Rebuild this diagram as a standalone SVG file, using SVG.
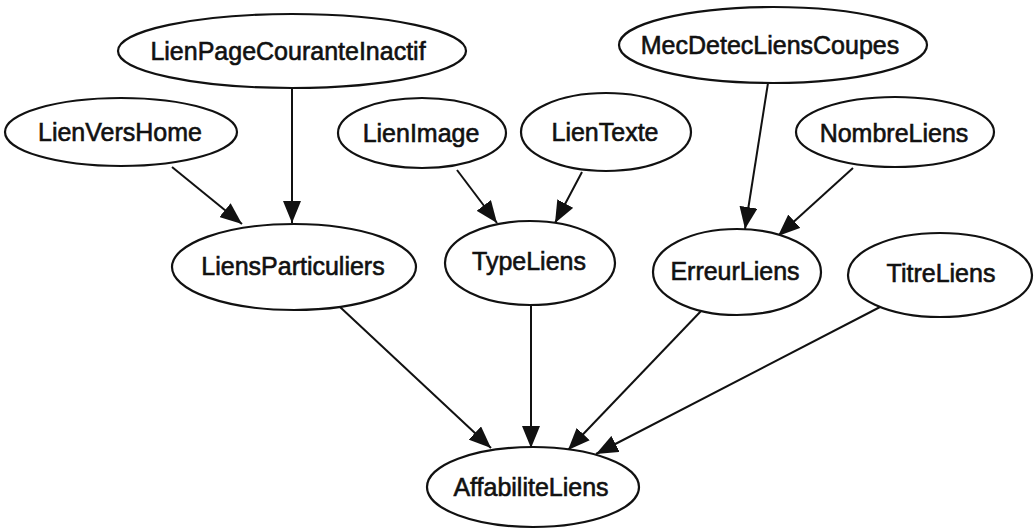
<svg xmlns="http://www.w3.org/2000/svg" width="1034" height="529" viewBox="0 0 1034 529">
  <style>
    .node ellipse { fill: #ffffff; stroke: #111111; stroke-width: 2.2; }
    .node text { font-family: "Liberation Sans", Arial, sans-serif; font-size: 25px; fill: #111111; stroke: #111111; stroke-width: 0.6; text-anchor: middle; }
    .edges path { fill: none; stroke: #111111; stroke-width: 2; marker-end: url(#arrow); }
  </style>
  <defs>
    <marker id="arrow" markerUnits="userSpaceOnUse" markerWidth="22" markerHeight="18" refX="22" refY="9" orient="auto">
      <path d="M0,0 L22,9 L0,18 Z" fill="#111111"/>
    </marker>
  </defs>
  <rect width="1034" height="529" fill="#ffffff"/>

  <g class="edges" id="edges">
    <path d="M292,88 L292,223"/>
    <path d="M172,167 L242,224"/>
    <path d="M457,170 L497,223"/>
    <path d="M582,172 L555,223"/>
    <path d="M768,83 L745,229"/>
    <path d="M853,168 L778,236"/>
    <path d="M340,307 L491,448"/>
    <path d="M531,305 L531,448"/>
    <path d="M702,310 L568,450"/>
    <path d="M882,306 L596,454"/>
  </g>

  <g class="node" id="LienPageCouranteInactif">
    <ellipse cx="292" cy="51" rx="174" ry="37"/>
    <text x="288" y="60">LienPageCouranteInactif</text>
  </g>
  <g class="node" id="LienVersHome">
    <ellipse cx="121" cy="132" rx="116" ry="34"/>
    <text x="120" y="141">LienVersHome</text>
  </g>
  <g class="node" id="LienImage">
    <ellipse cx="422" cy="133" rx="84" ry="35"/>
    <text x="421" y="142">LienImage</text>
  </g>
  <g class="node" id="LienTexte">
    <ellipse cx="606" cy="132" rx="85" ry="39"/>
    <text x="605" y="141">LienTexte</text>
  </g>
  <g class="node" id="MecDetecLiensCoupes">
    <ellipse cx="773" cy="45" rx="154" ry="38"/>
    <text x="770" y="54">MecDetecLiensCoupes</text>
  </g>
  <g class="node" id="NombreLiens">
    <ellipse cx="895" cy="132" rx="99" ry="35"/>
    <text x="894" y="142">NombreLiens</text>
  </g>
  <g class="node" id="LiensParticuliers">
    <ellipse cx="294" cy="267" rx="122" ry="43"/>
    <text x="293" y="275">LiensParticuliers</text>
  </g>
  <g class="node" id="TypeLiens">
    <ellipse cx="530" cy="263" rx="85" ry="42"/>
    <text x="529" y="270">TypeLiens</text>
  </g>
  <g class="node" id="ErreurLiens">
    <ellipse cx="737" cy="272" rx="84" ry="43"/>
    <text x="735" y="280">ErreurLiens</text>
  </g>
  <g class="node" id="TitreLiens">
    <ellipse cx="940" cy="275" rx="92" ry="42"/>
    <text x="941" y="282">TitreLiens</text>
  </g>
  <g class="node" id="AffabiliteLiens">
    <ellipse cx="533" cy="487" rx="106" ry="40"/>
    <text x="531" y="496">AffabiliteLiens</text>
  </g>
</svg>
